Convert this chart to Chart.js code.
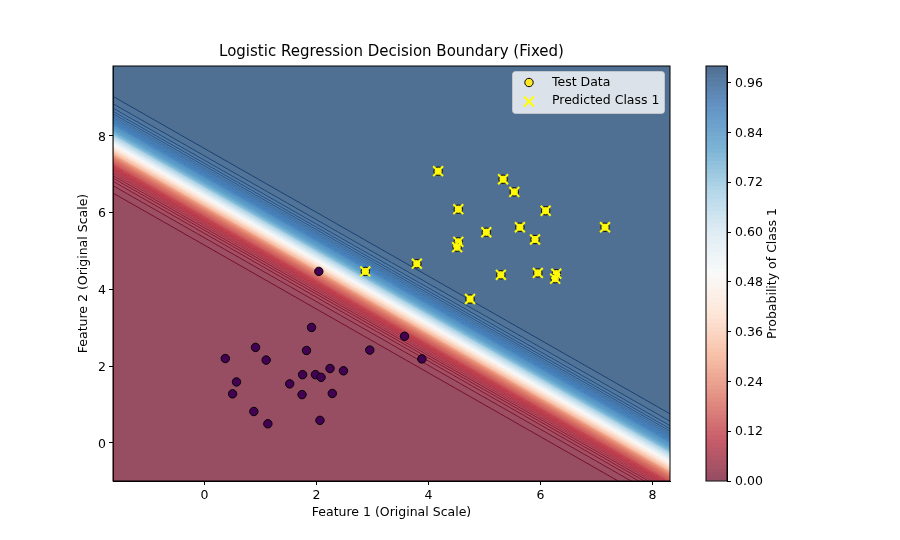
<!DOCTYPE html>
<html>
<head>
<meta charset="utf-8">
<script src="https://cdn.jsdelivr.net/npm/chart.js@4"></script>
<style>
  html, body { margin: 0; background: #fff; }
  canvas { position: absolute; left: 0; top: 0; }
</style>
</head>
<body>
<canvas id="mainChart" width="900" height="540"></canvas>
<canvas id="colorbar" width="900" height="540"></canvas>
<script>
// axis ranges and ticks
const xRange = [-1.625, 8.32]
const yRange = [-0.99, 9.82]
const xTicks = [0, 2, 4, 6, 8]
const yTicks = [0, 2, 4, 6, 8]
const barTicks = [0, 0.12, 0.24, 0.36, 0.48, 0.6, 0.72, 0.84, 0.96]

// test points, class 0 (dark dots)
const class0X = [2.05, 1.92, 3.58, 0.92, 1.83, 2.96, 0.38, 1.11, 3.89, 1.76, 1.99, 2.09, 2.25, 2.49, 0.58, 1.53, 0.51, 1.75, 2.29, 0.89, 1.14, 2.07]
const class0Y = [4.47, 3.01, 2.78, 2.49, 2.41, 2.42, 2.20, 2.16, 2.19, 1.78, 1.78, 1.71, 1.94, 1.88, 1.59, 1.54, 1.28, 1.26, 1.29, 0.82, 0.50, 0.59]

// test points, class 1 (yellow dots with a cross)
const class1X = [4.18, 5.34, 5.54, 4.54, 6.10, 5.04, 5.64, 5.91, 7.16, 4.54, 4.52, 3.80, 5.30, 5.96, 6.29, 6.27, 4.75, 2.88]
const class1Y = [7.08, 6.87, 6.54, 6.09, 6.05, 5.49, 5.62, 5.30, 5.62, 5.24, 5.10, 4.67, 4.38, 4.43, 4.41, 4.28, 3.75, 4.47]

// p = 0.5 line at the left and right edge of the plot
const boundaryLeftY = 7.77
const boundaryRightY = -0.50

// contour levels and how far each one sits from the p = 0.5 line (y units)
const levels = [
  0.00, 0.01, 0.02, 0.03, 0.04, 0.05, 0.06, 0.07, 0.08, 0.09,
  0.10, 0.11, 0.12, 0.13, 0.14, 0.15, 0.16, 0.17, 0.18, 0.19,
  0.20, 0.21, 0.22, 0.23, 0.24, 0.25, 0.26, 0.27, 0.28, 0.29,
  0.30, 0.31, 0.32, 0.33, 0.34, 0.35, 0.36, 0.37, 0.38, 0.39,
  0.40, 0.41, 0.42, 0.43, 0.44, 0.45, 0.46, 0.47, 0.48, 0.49,
  0.50, 0.51, 0.52, 0.53, 0.54, 0.55, 0.56, 0.57, 0.58, 0.59,
  0.60, 0.61, 0.62, 0.63, 0.64, 0.65, 0.66, 0.67, 0.68, 0.69,
  0.70, 0.71, 0.72, 0.73, 0.74, 0.75, 0.76, 0.77, 0.78, 0.79,
  0.80, 0.81, 0.82, 0.83, 0.84, 0.85, 0.86, 0.87, 0.88, 0.89,
  0.90, 0.91, 0.92, 0.93, 0.94, 0.95, 0.96, 0.97, 0.98, 0.99, 1.00
]
const levelOffsets = [
  -12, -1.259, -1.066, -0.952, -0.871, -0.807, -0.754, -0.709, -0.669, -0.634,
  -0.602, -0.573, -0.546, -0.521, -0.497, -0.475, -0.454, -0.435, -0.415, -0.397,
  -0.380, -0.363, -0.347, -0.331, -0.316, -0.301, -0.287, -0.273, -0.259, -0.245,
  -0.232, -0.219, -0.207, -0.194, -0.182, -0.170, -0.158, -0.146, -0.134, -0.122,
  -0.111, -0.100, -0.088, -0.077, -0.066, -0.055, -0.044, -0.033, -0.022, -0.011,
  0, 0.011, 0.022, 0.033, 0.044, 0.055, 0.066, 0.077, 0.088, 0.100,
  0.111, 0.122, 0.134, 0.146, 0.158, 0.170, 0.182, 0.194, 0.207, 0.219,
  0.232, 0.245, 0.259, 0.273, 0.287, 0.301, 0.316, 0.331, 0.347, 0.363,
  0.380, 0.397, 0.415, 0.435, 0.454, 0.475, 0.497, 0.521, 0.546, 0.573,
  0.602, 0.634, 0.669, 0.709, 0.754, 0.807, 0.871, 0.952, 1.066, 1.259, 12
]

// RdBu colormap
const rdBu = [[103,0,31],[178,24,43],[214,96,77],[244,165,130],[253,219,199],[247,247,247],[209,229,240],[146,197,222],[67,147,195],[33,102,172],[5,48,97]]
const fillAlpha = 0.7

function mapColor(t)
{
    let pos = Math.min(t, 0.9999) * (rdBu.length - 1)
    let i = Math.floor(pos)
    let f = pos - i
    return rdBu[i].map((c, k) => c + (rdBu[i + 1][k] - c) * f)
}

function rgba(c, a)
{
    return `rgba(${c[0]}, ${c[1]}, ${c[2]}, ${a})`
}

function overWhite(c)
{
    return rgba(c.map(v => v * fillAlpha + 255 * (1 - fillAlpha)), 1)
}

function points(xs, ys)
{
    return xs.map((x, i) => ({x: x, y: ys[i]}))
}

Chart.defaults.font.family = "'DejaVu Sans'"
Chart.defaults.font.size = 12.5
Chart.defaults.color = '#000'
Chart.defaults.animation = false

// matplotlib style frame on all four sides
const framePlugin = {
    id: 'frame',
    afterDraw(chart) {
        let a = chart.chartArea, ctx = chart.ctx
        ctx.save()
        ctx.strokeStyle = '#000'
        ctx.lineWidth = 1
        ctx.strokeRect(a.left, a.top, a.right - a.left, a.bottom - a.top)
        ctx.restore()
    }
}

// legend has to sit on top of the filled bands, so it is drawn here
const legendPlugin = {
    id: 'boxLegend',
    afterDatasetsDraw(chart) {
        let ctx = chart.ctx
        ctx.save()
        ctx.beginPath()
        ctx.roundRect(512.5, 71.5, 152, 42, 3)
        ctx.fillStyle = 'rgba(255, 255, 255, 0.8)'
        ctx.fill()
        ctx.strokeStyle = 'rgba(204, 204, 204, 0.8)'
        ctx.lineWidth = 1
        ctx.stroke()

        ctx.beginPath()
        ctx.arc(529, 82.5, 4.2, 0, Math.PI * 2)
        ctx.fillStyle = '#fde725'
        ctx.fill()
        ctx.strokeStyle = '#000'
        ctx.lineWidth = 1
        ctx.stroke()

        ctx.beginPath()
        ctx.moveTo(524, 96.5)
        ctx.lineTo(534, 106.5)
        ctx.moveTo(534, 96.5)
        ctx.lineTo(524, 106.5)
        ctx.strokeStyle = '#ffff00'
        ctx.lineWidth = 2
        ctx.stroke()

        ctx.fillStyle = '#000'
        ctx.font = "12.5px 'DejaVu Sans'"
        ctx.textBaseline = 'middle'
        ctx.fillText('Test Data', 552, 82.5)
        ctx.fillText('Predicted Class 1', 552, 100.5)
        ctx.restore()
    }
}

// colorbar label reads bottom to top, the right axis title would read the other way
const barLabelPlugin = {
    id: 'barLabel',
    afterDraw(chart) {
        let ctx = chart.ctx
        ctx.save()
        ctx.translate(772.5, 273.5)
        ctx.rotate(-Math.PI / 2)
        ctx.fillStyle = '#000'
        ctx.font = "12.5px 'DejaVu Sans'"
        ctx.textAlign = 'center'
        ctx.textBaseline = 'middle'
        ctx.fillText('Probability of Class 1', 0, 0)
        ctx.restore()
    }
}

// line strength per level: strong for widely spaced outer levels, fading toward p = 0.5
function lineStyle(offset)
{
    let d = Math.abs(offset)
    if (d > 0.8) return {alpha: 1, width: 0.9}
    if (d > 0.5) return {alpha: 1, width: 0.7}
    if (d > 0.25) return {alpha: 0.9, width: 0.6}
    return {alpha: 0.5, width: 0.5}
}

// one line per contour level, each filled up to the next one
let bandSets = levels.map((level, i) => {
    let isLast = i == levels.length - 1
    let mid = isLast ? 1 : (level + levels[i + 1]) / 2
    let line = lineStyle(levelOffsets[i])
    return {
        type: 'line',
        data: [
            {x: xRange[0], y: boundaryLeftY + levelOffsets[i]},
            {x: xRange[1], y: boundaryRightY + levelOffsets[i]}
        ],
        borderColor: rgba(mapColor(level), line.alpha),
        borderWidth: (i == 0 || isLast) ? 0 : line.width,
        pointRadius: 0,
        fill: isLast ? false : '+1',
        backgroundColor: rgba(mapColor(mid), fillAlpha),
        order: 10
    }
})

new Chart('mainChart', {
    type: 'line',
    data: {
        datasets: [
            ...bandSets,
            {
                label: 'Test Data',
                data: points(class0X, class0Y),
                showLine: false,
                pointRadius: 4.2,
                pointBackgroundColor: '#440154',
                pointBorderColor: '#000',
                pointBorderWidth: 1,
                order: 2
            },
            {
                label: 'Test Data',
                data: points(class1X, class1Y),
                showLine: false,
                pointRadius: 4.2,
                pointBackgroundColor: '#fde725',
                pointBorderColor: '#000',
                pointBorderWidth: 1,
                order: 1
            },
            {
                label: 'Predicted Class 1',
                data: points(class1X, class1Y),
                showLine: false,
                pointStyle: 'crossRot',
                pointRadius: 7,
                pointBorderColor: '#ffff00',
                pointBorderWidth: 2,
                order: 0
            }
        ]
    },
    options: {
        responsive: false,
        devicePixelRatio: 1,
        layout: {autoPadding: false, padding: {left: 76, right: 230, top: 0, bottom: 20}},
        plugins: {
            legend: {display: false},
            tooltip: {enabled: false},
            title: {
                display: true,
                fullSize: false,
                text: 'Logistic Regression Decision Boundary (Fixed)',
                color: '#000',
                font: {size: 15, weight: 'normal'},
                padding: {top: 43, bottom: 5}
            }
        },
        scales: {
            x: {
                type: 'linear',
                min: xRange[0],
                max: xRange[1],
                afterBuildTicks: axis => { axis.ticks = xTicks.map(v => ({value: v})) },
                afterFit: axis => { axis.height = 39 },
                grid: {drawOnChartArea: false, tickLength: 4, tickColor: '#000'},
                border: {color: '#000'},
                ticks: {maxRotation: 0, padding: 3, autoSkip: false, labelOffset: 0.5},
                title: {display: true, text: 'Feature 1 (Original Scale)', padding: 0}
            },
            y: {
                min: yRange[0],
                max: yRange[1],
                afterBuildTicks: axis => { axis.ticks = yTicks.map(v => ({value: v})) },
                afterFit: axis => { axis.width = 37 },
                grid: {drawOnChartArea: false, tickLength: 4, tickColor: '#000'},
                border: {color: '#000'},
                ticks: {padding: 3, autoSkip: false, labelOffset: 1.5},
                title: {display: true, text: 'Feature 2 (Original Scale)', padding: 0}
            }
        }
    },
    plugins: [legendPlugin, framePlugin]
})

// colorbar, a single stacked bar with one segment per contour band
new Chart('colorbar', {
    type: 'bar',
    data: {
        labels: ['Probability of Class 1'],
        datasets: levels.slice(0, -1).map((level, i) => ({
            data: [levels[i + 1] - level],
            backgroundColor: overWhite(mapColor((level + levels[i + 1]) / 2)),
            barPercentage: 1,
            categoryPercentage: 1
        }))
    },
    options: {
        responsive: false,
        devicePixelRatio: 1,
        layout: {autoPadding: false, padding: {left: 706, right: 113, top: 66, bottom: 59}},
        plugins: {legend: {display: false}, tooltip: {enabled: false}},
        scales: {
            x: {stacked: true, display: false},
            y: {
                stacked: true,
                position: 'right',
                min: 0,
                max: 1,
                afterBuildTicks: axis => { axis.ticks = barTicks.map(v => ({value: v})) },
                afterFit: axis => { axis.width = 60 },
                grid: {drawOnChartArea: false, tickLength: 4, tickColor: '#000'},
                border: {color: '#000'},
                ticks: {padding: 4, autoSkip: false, labelOffset: 1, callback: v => v.toFixed(2)}
            }
        }
    },
    plugins: [framePlugin, barLabelPlugin]
})
</script>
</body>
</html>
